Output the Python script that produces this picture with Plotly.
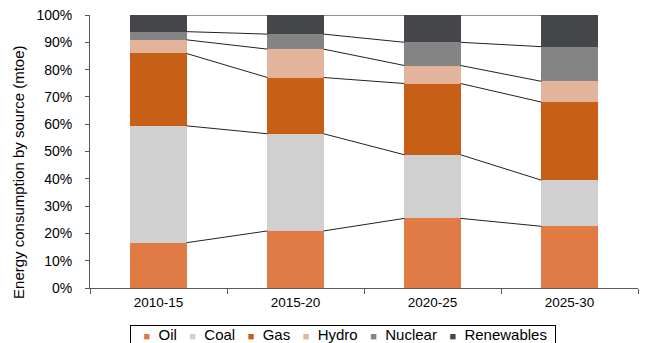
import plotly.graph_objects as go

periods = ["2010-15", "2015-20", "2020-25", "2025-30"]
sources = ["Oil", "Coal", "Gas", "Hydro", "Nuclear", "Renewables"]
oil = [16.6, 20.9, 25.5, 22.6]
coal = [42.8, 35.6, 23.3, 16.9]
gas = [26.5, 20.6, 26.1, 28.6]
hydro = [5.0, 10.4, 6.6, 7.6]
nuclear = [3.0, 5.5, 8.5, 12.7]
renewables = [6.1, 7.0, 10.0, 11.6]
colors = ["#E07B45", "#D0D0D0", "#C85F17", "#E3B49C", "#848484", "#454649"]
ytick_vals = list(range(0, 101, 10))
ytick_text = [f"{v}%" for v in ytick_vals]

series = [oil, coal, gas, hydro, nuclear, renewables]
bar_w = 0.41
font = "Liberation Sans, Arial, sans-serif"

fig = go.Figure()
for name, vals, col in zip(sources, series, colors):
    fig.add_trace(go.Bar(x=periods, y=vals, name=name, marker=dict(color=col, line=dict(width=0)),
                         width=bar_w, showlegend=False))

# connector lines between cumulative tops
cum = []
run = [0.0] * len(periods)
for vals in series:
    run = [r + v for r, v in zip(run, vals)]
    cum.append(run[:])
lx, ly = [], []
for level in cum:
    for i in range(len(periods) - 1):
        lx += [i + bar_w / 2, i + 1 - bar_w / 2, None]
        ly += [level[i], level[i + 1], None]
fig.add_trace(go.Scatter(x=lx, y=ly, mode="lines", xaxis="x2", line=dict(color="#222222", width=1),
                         showlegend=False, hoverinfo="skip"))

# legend box (built from the series names/colours)
nb = "\u00a0"
items = [f"<span style='color:{c};font-size:11px'>\u25A0</span>{nb * 2}{n}" for n, c in zip(sources, colors)]
legend_text = nb * 3 + (nb * 3).join(items) + nb * 2

fig.update_layout(
    barmode="stack",
    width=654, height=343,
    margin=dict(l=90, r=16, t=15, b=55, autoexpand=False),
    plot_bgcolor="white", paper_bgcolor="white",
    font=dict(family=font, color="#000000", size=14),
    showlegend=False,
    xaxis=dict(type="category", range=[-0.5, 3.5], tickson="boundaries", ticks="outside", ticklen=5,
               tickcolor="#595959", showline=True, linecolor="#595959", linewidth=1, showgrid=False,
               tickfont=dict(size=13.5), ticklabelstandoff=2),
    xaxis2=dict(overlaying="x", range=[-0.5, 3.5], visible=False),
    yaxis=dict(range=[0, 100], tickvals=ytick_vals, ticktext=ytick_text, ticks="outside", ticklen=4,
               tickcolor="#595959", showline=True, linecolor="#595959", linewidth=1, showgrid=False,
               zeroline=False, tickfont=dict(size=14), ticklabelstandoff=10),
    annotations=[
        dict(text="Energy consumption by source (mtoe)", xref="paper", yref="paper",
             x=-0.1296, y=0.425, xanchor="center", yanchor="middle", textangle=-90,
             showarrow=False, font=dict(size=15)),
        dict(text=legend_text, xref="paper", yref="paper", x=0.073, y=-0.137,
             xanchor="left", yanchor="top", align="left", showarrow=False,
             bordercolor="#000000", borderwidth=1, borderpad=0, font=dict(size=15)),
    ],
)

fig.write_html("out.html")
